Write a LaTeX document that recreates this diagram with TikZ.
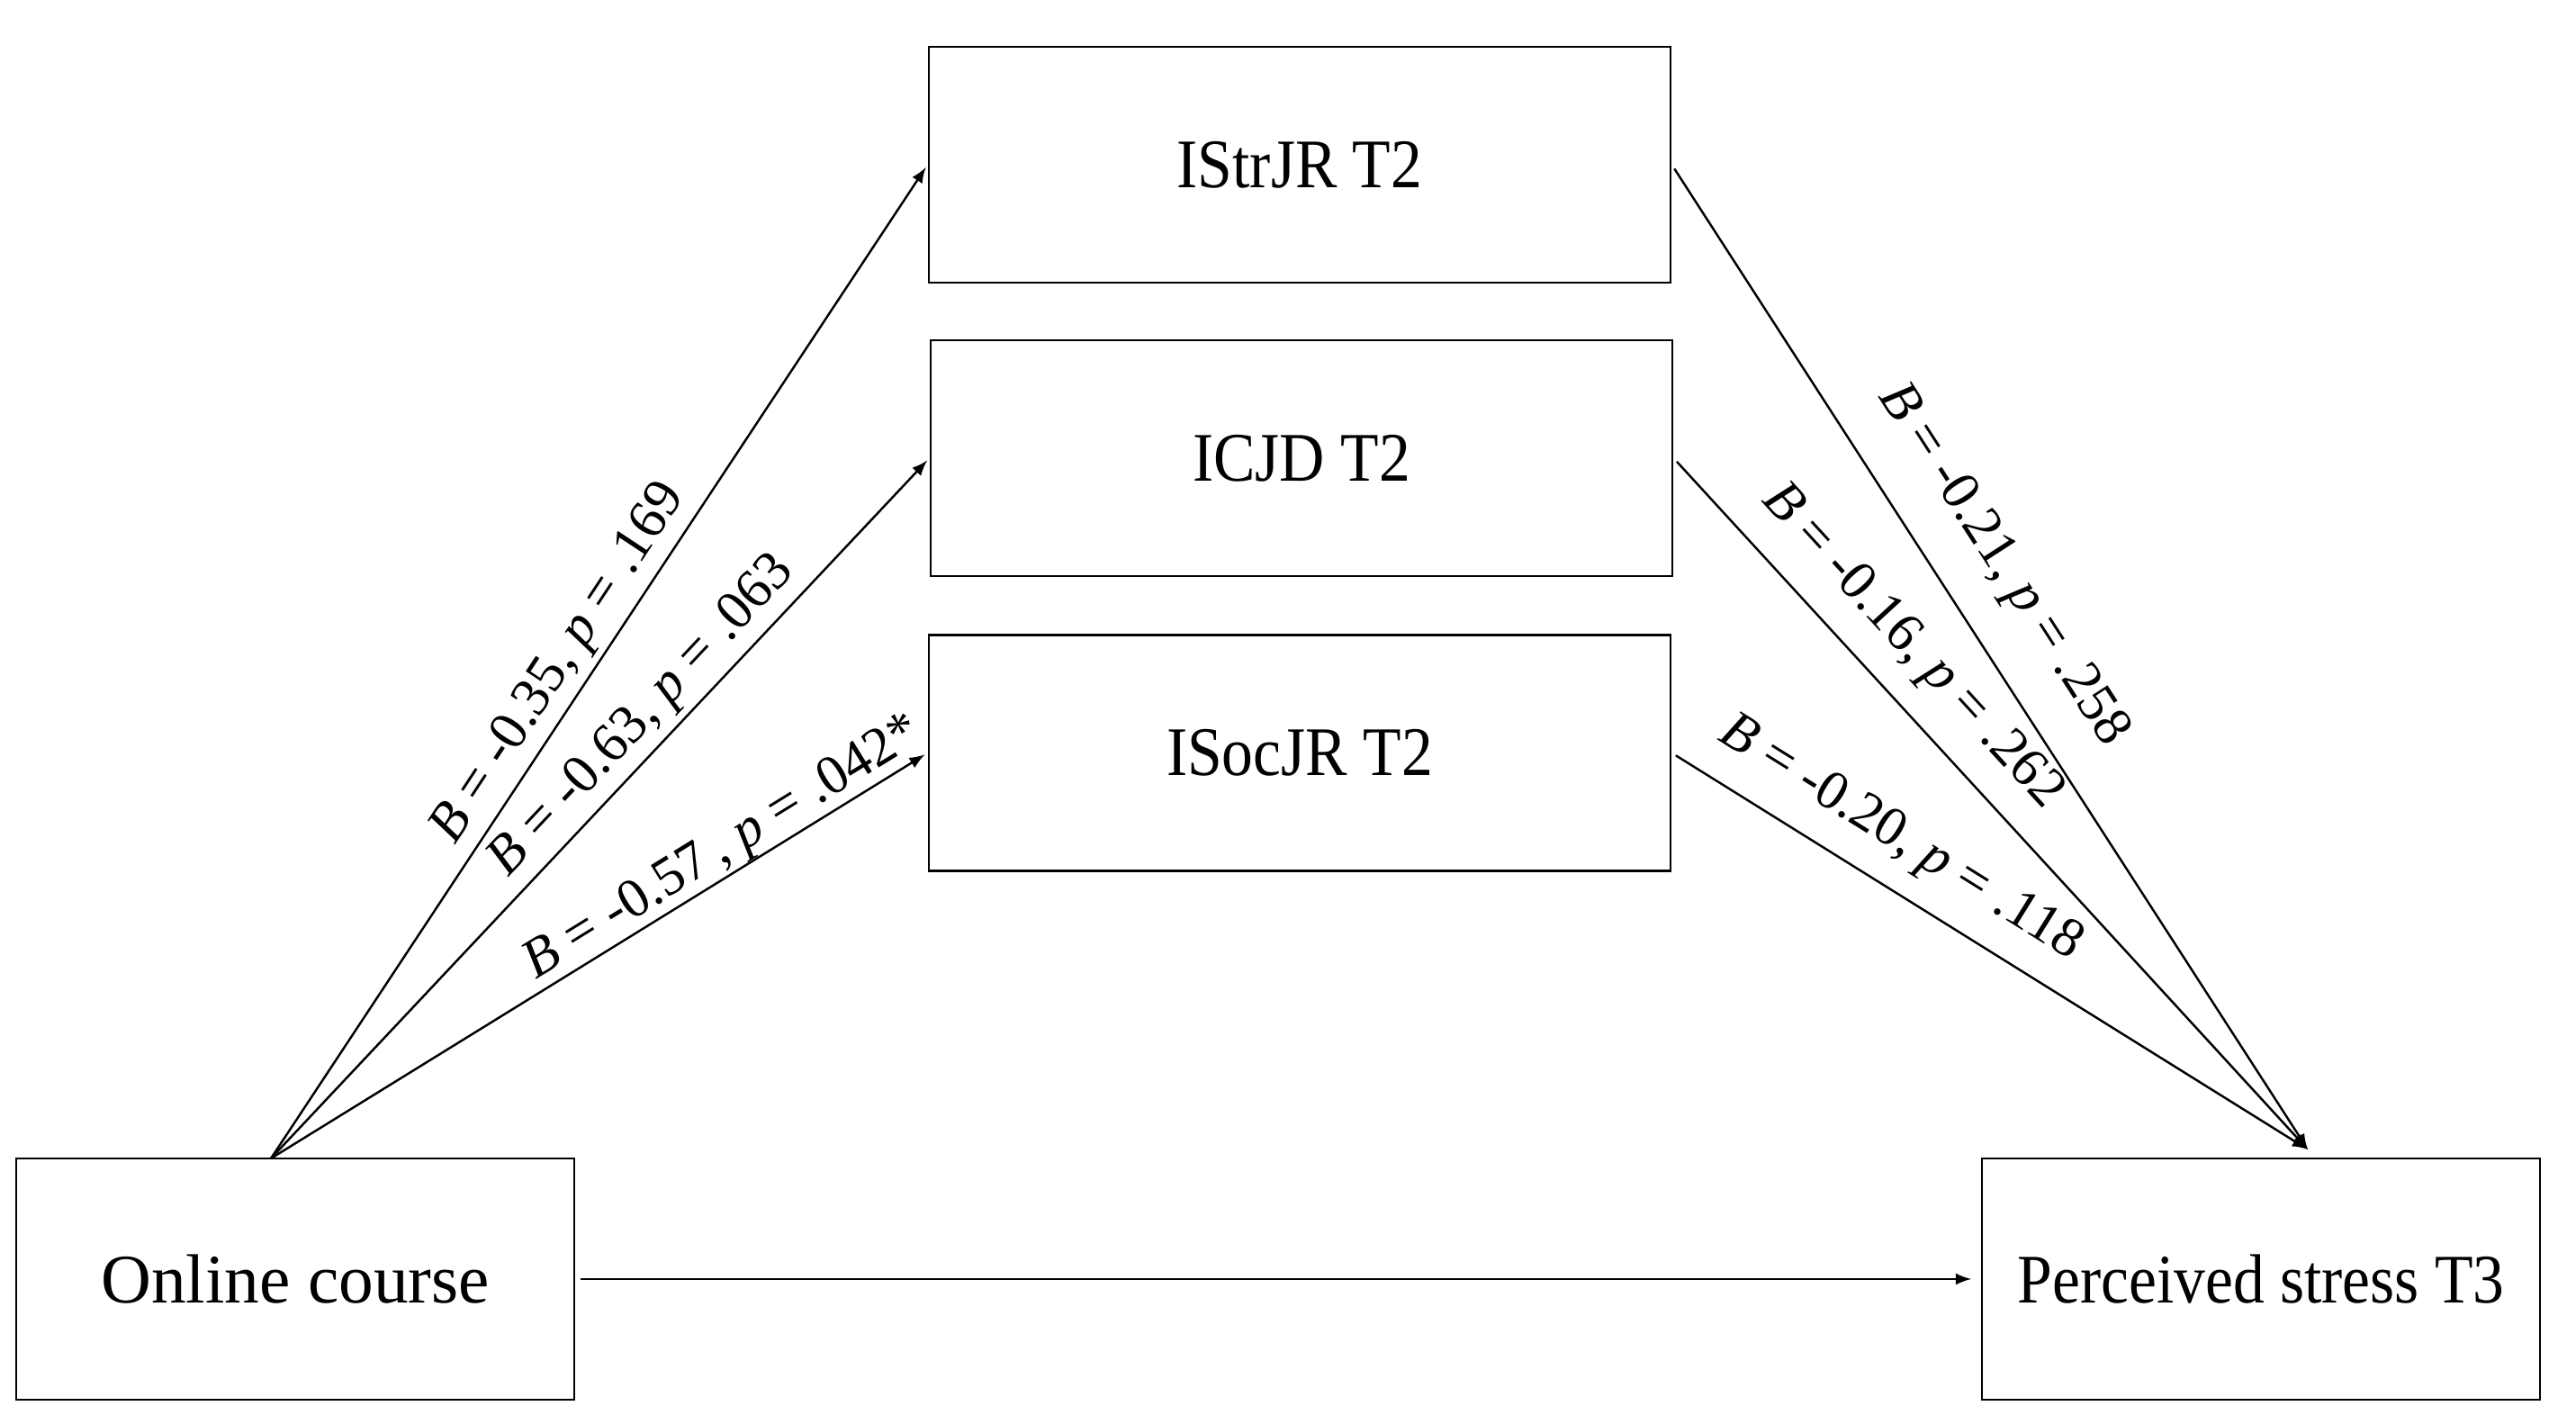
\documentclass[tikz,border=0pt]{standalone}
\usepackage{graphicx}
\usepackage{fontspec}
\setmainfont{Liberation Serif}
\newcommand{\narrowtext}[1]{\scalebox{0.9}[1]{#1}}
\begin{document}
\begin{tikzpicture}[
    box/.style={draw,line width=0.8pt,align=center,font=\fontsize{22}{26}\selectfont},
    mid/.style={box,minimum width=8.24cm,minimum height=2.62cm},
    outer/.style={box,minimum width=6.2cm,minimum height=2.68cm},
    arr/.style={-latex,line width=0.7pt},
    coef/.style={sloped,font=\fontsize{17.5}{21}\selectfont,inner sep=1pt}]
    \useasboundingbox (0,0) rectangle (28.62,15.82);
    \node[mid] (StrJR) at (14.44,13.99) {\narrowtext{IStrJR T2}};
    \node[mid] (CJD) at (14.46,10.73) {\narrowtext{ICJD T2}};
    \node[mid] (SocJR) at (14.44,7.455) {\narrowtext{ISocJR T2}};
    \node[outer] (Onl) at (3.28,1.61) {Online course};
    \node[outer] (PS) at (25.12,1.61) {\narrowtext{Perceived stress T3}};
    \coordinate (Src) at (3.01,2.95);
    \coordinate (Dst) at (25.64,3.05);

    % Arrows
    \draw[arr,shorten >=1pt] (Src) -- (StrJR.west) node[coef,pos=0.48,above=1pt] {\textit{B} = -0.35, \textit{p} = .169};
    \draw[arr,shorten >=1pt] (Src) -- (CJD.west) node[coef,pos=0.60,above=1pt] {\textit{B} = -0.63, \textit{p} = .063};
    \draw[arr,shorten >=1pt] (Src) -- (SocJR.west) node[coef,pos=0.71,above=-1pt] {\textit{B} = -0.57\,, \textit{p} = .042*};
    \draw[arr,shorten <=1.5pt] (StrJR.east) -- (Dst) node[coef,pos=0.44,above=10pt] {\textit{B} = -0.21, \textit{p} = .258};
    \draw[arr,shorten <=1.5pt] (CJD.east) -- (Dst) node[coef,pos=0.32,above=6pt] {\textit{B} = -0.16, \textit{p} = .262};
    \draw[arr,shorten <=1.5pt] (SocJR.east) -- (Dst) node[coef,pos=0.32,above=6pt] {\textit{B} = -0.20, \textit{p} = .118};
    \draw[arr,shorten <=1.5pt,shorten >=3pt] (Onl) -- (PS);
\end{tikzpicture}
\end{document}
